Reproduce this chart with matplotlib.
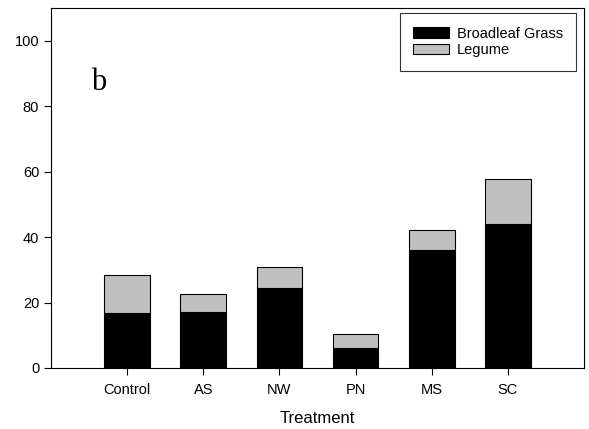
import matplotlib
matplotlib.use("Agg")
import matplotlib.pyplot as plt
import numpy as np

treatments = ["Control", "AS", "NW", "PN", "MS", "SC"]
broadleaf_grass = [16.7, 17.2, 24.4, 6.0, 36.1, 44.0]
legume = [11.7, 5.3, 6.4, 4.4, 6.1, 13.8]   # stacked on top of grass
yticks = [0, 20, 40, 60, 80, 100]

plt.rcParams['font.family'] = ['Liberation Sans', 'DejaVu Sans']

fig = plt.figure(figsize=(5.89, 4.29), dpi=100)
ax = fig.add_axes([0.0866, 0.1422, 0.9049, 0.8392])

x = np.arange(len(treatments))
ax.bar(x, broadleaf_grass, width=0.6, color="black", edgecolor="black",
       linewidth=0.8, label="Broadleaf Grass")
ax.bar(x, legume, width=0.6, bottom=broadleaf_grass, color="#c0c0c0",
       edgecolor="black", linewidth=0.8, label="Legume")

ax.set_xlim(-1, 6)
ax.set_ylim(0, 110)
ax.set_xticks(x)
ax.set_xticklabels(treatments, fontsize=10.5)
ax.set_yticks(yticks)
ax.set_yticklabels([str(v) for v in yticks], fontsize=10.5)
ax.tick_params(axis='both', direction='out', length=5, width=0.8)
ax.tick_params(axis='x', pad=6)
for s in ax.spines.values():
    s.set_linewidth(0.8)

ax.set_xlabel("Treatment", fontsize=12, labelpad=10)

ax.text(0.075, 0.772, "b", transform=ax.transAxes, fontsize=22,
        family="Liberation Serif", va="baseline", ha="left")

leg = ax.legend(loc="upper right", bbox_to_anchor=(0.985, 0.985),
                fontsize=10.5, frameon=True, fancybox=False,
                handlelength=2.5, handleheight=0.7, handletextpad=0.5,
                labelspacing=0.2, borderpad=0.9, borderaxespad=0)
leg.get_frame().set_edgecolor("black")
leg.get_frame().set_linewidth(0.8)

fig.savefig("out.png", dpi=100)
